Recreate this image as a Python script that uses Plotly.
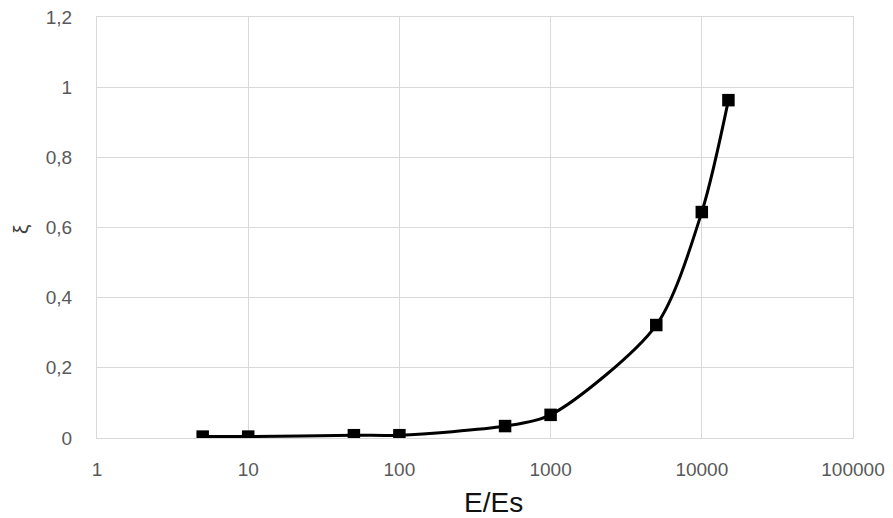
import plotly.graph_objects as go

x_vals = [5, 10, 50, 100, 500, 1000, 5000, 10000, 15000]
xi_vals = [0.004, 0.004, 0.008, 0.008, 0.034, 0.066, 0.322, 0.644, 0.963]
x_ticks = [1, 10, 100, 1000, 10000, 100000]
x_tick_text = ["1", "10", "100", "1000", "10000", "100000"]
y_ticks = [0, 0.2, 0.4, 0.6, 0.8, 1.0, 1.2]
y_tick_text = ["0", "0,2", "0,4", "0,6", "0,8", "1", "1,2"]

fig = go.Figure()
fig.add_trace(go.Scatter(
    x=x_vals, y=xi_vals, mode="lines+markers",
    line=dict(color="black", width=3, shape="spline", smoothing=0.8),
    marker=dict(symbol="square", size=12.5, color="black"),
    showlegend=False,
))

fig.update_layout(
    width=893, height=518,
    margin=dict(l=97, r=40, t=17, b=80),
    plot_bgcolor="white", paper_bgcolor="white",
    font=dict(family="Liberation Sans, Arial, sans-serif", color="#595959", size=19),
    xaxis=dict(
        type="log", range=[0, 5], automargin=False,
        tickvals=x_ticks, ticktext=x_tick_text,
        showgrid=True, gridcolor="#d9d9d9", gridwidth=1.3,
        showline=True, linecolor="#d9d9d9", linewidth=1.3, mirror=True,
        zeroline=False, ticks="", ticklabelstandoff=14,
    ),
    yaxis=dict(
        range=[0, 1.2], automargin=False,
        tickvals=y_ticks, ticktext=y_tick_text,
        showgrid=True, gridcolor="#d9d9d9", gridwidth=1.3,
        showline=True, linecolor="#d9d9d9", linewidth=1.3, mirror=True,
        zeroline=False, ticks="", ticklabelstandoff=20,
    ),
    annotations=[
        dict(text="E/Es", xref="paper", yref="paper", x=0.525, y=-0.154,
             xanchor="center", yanchor="middle", showarrow=False,
             font=dict(size=28, color="#111111",
                       family="Liberation Sans Narrow, Arial Narrow, Liberation Sans, sans-serif")),
        dict(text="ξ", xref="paper", yref="paper", x=-0.102, y=0.496,
             xanchor="center", yanchor="middle", showarrow=False, textangle=-90,
             font=dict(size=21, color="#404040")),
    ],
)

fig.write_html("out.html", config={"displayModeBar": False},
               post_script="document.body.style.margin='0';document.body.style.overflow='hidden';")
